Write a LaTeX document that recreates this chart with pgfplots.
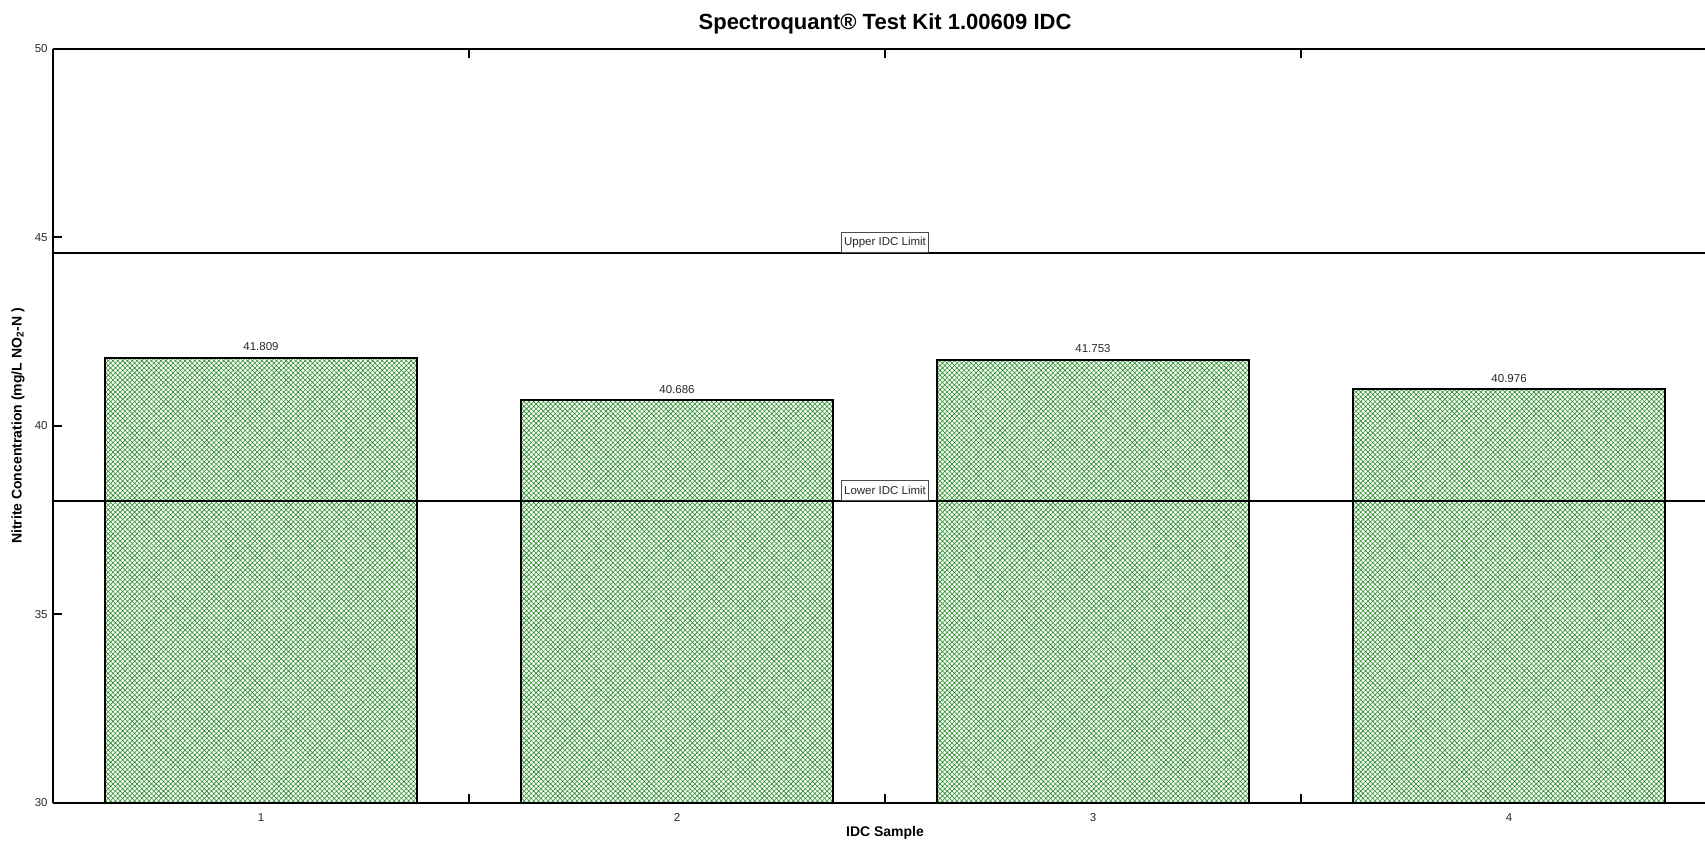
\documentclass[border=0pt]{standalone}
\usepackage{fontspec}
\setmainfont{Liberation Sans}
\usepackage{pgfplots}
\pgfplotsset{compat=1.18}
\usetikzlibrary{patterns.meta}
\definecolor{hatch}{RGB}{40,140,40}
\definecolor{txt}{RGB}{40,40,40}
\begin{document}
\begin{tikzpicture}
\begin{axis}[
  at={(0,0)}, anchor=south west,
  scale only axis, width=826pt, height=377pt,
  xmin=0.5, xmax=4.471, ymin=30, ymax=50,
  axis x line=box, axis y line=left,
  every non boxed y axis/.append style={tick align=inside},
  x axis line style={-}, y axis line style={-},
  axis line style={line width=1pt, black},
  tick align=inside,
  xtick={1.5,2.5,3.5}, xticklabels={,,},
  extra x ticks={1,2,3,4}, extra x tick labels={1,2,3,4},
  extra x tick style={major tick length=0pt},
  ytick={30,35,40,45,50},
  major tick length=4.5pt,
  every tick/.style={black, line width=1pt},
  /pgf/number format/assume math mode=true,
  xticklabel style={inner sep=0pt, yshift=-5pt, font=\fontsize{5.75}{7}\selectfont, text=txt},
  yticklabel style={inner sep=0pt, xshift=-2.5pt, font=\fontsize{5.75}{7}\selectfont, text=txt},
  clip mode=individual,
]
\addplot[ybar, bar width=0.75, draw=black, line width=1pt, fill=white,
  pattern={Hatch[angle=45,distance=1.7pt,line width=0.3pt]}, pattern color=hatch,
  nodes near coords, point meta=explicit symbolic,
  nodes near coords style={font=\fontsize{5.75}{7}\selectfont, text=txt, anchor=south, inner sep=0pt, yshift=3pt}]
  coordinates {(1,41.809) [41.809] (2,40.686) [40.686] (3,41.753) [41.753] (4,40.976) [40.976]};
\addplot[black, line width=1pt, forget plot] coordinates {(0.5,44.6) (4.471,44.6)};
\addplot[black, line width=1pt, forget plot] coordinates {(0.5,38.0) (4.471,38.0)};
\node[draw=black!70, line width=0.5pt, fill=white, anchor=south, inner xsep=1.25pt, inner ysep=0pt, minimum height=10pt, font=\fontsize{5.75}{7}\selectfont, text=txt] at (axis cs:2.5,44.6) {Upper IDC Limit};
\node[draw=black!70, line width=0.5pt, fill=white, anchor=south, inner xsep=1.25pt, inner ysep=0pt, minimum height=10pt, font=\fontsize{5.75}{7}\selectfont, text=txt] at (axis cs:2.5,38.0) {Lower IDC Limit};
\node[anchor=base, font=\bfseries\fontsize{11}{13}\selectfont] at ([yshift=9.5pt]axis cs:2.5,50) {Spectroquant® Test Kit 1.00609 IDC};
\node[rotate=90, font=\bfseries\fontsize{7}{8.4}\selectfont] at ([xshift=-17.5pt]axis cs:0.5,40) {Nitrite Concentration (mg/L NO\textsubscript{2}-N )};
\node[font=\bfseries\fontsize{7}{8.4}\selectfont] at ([yshift=-15pt]axis cs:2.5,30) {IDC Sample};
\end{axis}
\pgfresetboundingbox
\path[use as bounding box] (-26.5pt,-20.5pt) rectangle (826pt,401.5pt);
\end{tikzpicture}
\end{document}
